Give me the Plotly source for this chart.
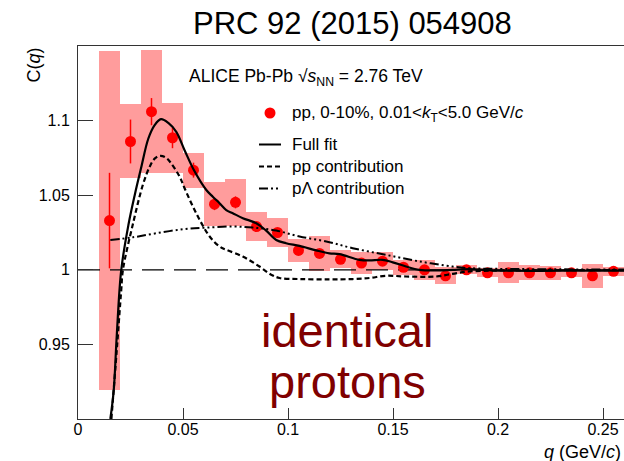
import plotly.graph_objects as go

# ---------------- data ----------------
q_pts = [0.015, 0.025, 0.035, 0.045, 0.055, 0.065, 0.075, 0.085, 0.095, 0.105,
         0.115, 0.125, 0.135, 0.145, 0.155, 0.165, 0.175, 0.185, 0.195, 0.205,
         0.215, 0.225, 0.235, 0.245, 0.255]
c_pts = [1.033, 1.086, 1.106, 1.0885, 1.0668, 1.044, 1.0452, 1.029, 1.025, 1.013,
         1.011, 1.007, 1.0045, 1.0058, 1.0017, 1.000, 0.996, 1.000, 0.998, 0.998,
         0.998, 0.998, 0.998, 0.996, 0.999]
stat_err = [0.032, 0.0147, 0.0091, 0.007, 0.005, 0.004, 0.004, 0.003, 0.003, 0.003,
            0.003, 0.002, 0.002, 0.002, 0.002, 0.002, 0.002, 0.002, 0.002, 0.002,
            0.002, 0.002, 0.002, 0.002, 0.002]
sys_err = [0.1136, 0.0248, 0.0414, 0.0236, 0.0117, 0.0147, 0.0156, 0.010, 0.010, 0.0078,
           0.0115, 0.006, 0.0072, 0.006, 0.005, 0.0065, 0.0058, 0.003, 0.003, 0.0071,
           0.005, 0.0047, 0.0027, 0.008, 0.003]
bin_width = 0.01

q_full = [0.0154, 0.017, 0.0185, 0.0206, 0.024, 0.027, 0.030, 0.0335, 0.0365, 0.0395,
          0.043, 0.0468, 0.0508, 0.0555, 0.0611, 0.0642, 0.0674, 0.0706, 0.0737, 0.0785,
          0.0849, 0.0896, 0.0944, 0.0991, 0.1055, 0.1134, 0.1197, 0.1245, 0.134, 0.1388,
          0.145, 0.1499, 0.1562, 0.1626, 0.1705, 0.1784, 0.1863, 0.20, 0.22, 0.24, 0.26]
c_full = [0.90, 0.919, 0.957, 1.000, 1.030, 1.050, 1.068, 1.088, 1.097, 1.101,
          1.0985, 1.0925, 1.080, 1.066, 1.0535, 1.049, 1.0446, 1.040, 1.0379, 1.0346,
          1.0312, 1.0262, 1.020, 1.0178, 1.016, 1.013, 1.011, 1.0105, 1.0067, 1.0063,
          1.0067, 1.005, 1.0022, 1.000, 0.9996, 1.000, 1.0004, 0.9995, 0.9993, 0.9995, 0.9995]

q_ppc = [0.0159, 0.0185, 0.0206, 0.0214, 0.0262, 0.0309, 0.0341, 0.0365, 0.0392, 0.042,
         0.0444, 0.0484, 0.0508, 0.0563, 0.0627, 0.0674, 0.0706, 0.0785, 0.0864, 0.092,
         0.096, 0.1055, 0.1197, 0.1308, 0.1388, 0.1467, 0.1562, 0.1705, 0.1784, 0.1863,
         0.20, 0.22, 0.26]
c_ppc = [0.90, 0.947, 0.9866, 1.000, 1.031, 1.057, 1.069, 1.0745, 1.0764, 1.075,
         1.0713, 1.0624, 1.0545, 1.0379, 1.0223, 1.0156, 1.0134, 1.0089, 1.0022, 0.9967,
         0.9945, 0.9938, 0.9936, 0.9938, 0.9945, 0.996, 0.9955, 0.9955, 0.9973, 0.9989,
         0.9995, 0.9997, 0.9998]

q_pl = [0.0154, 0.0262, 0.0373, 0.05, 0.0611, 0.0737, 0.0833, 0.0944, 0.1055, 0.1182,
        0.1308, 0.1467, 0.1626, 0.1784, 0.1863, 0.21, 0.26]
c_pl = [1.020, 1.0218, 1.0245, 1.0272, 1.0283, 1.029, 1.0283, 1.0263, 1.0223, 1.019,
        1.0145, 1.010, 1.0056, 1.0022, 1.0011, 1.0005, 1.0002]

x_ticks = [0, 0.05, 0.1, 0.15, 0.2, 0.25]
x_ticktext = ["0", "0.05", "0.1", "0.15", "0.2", "0.25"]
y_ticks = [0.95, 1.0, 1.05, 1.1]
y_ticktext = ["0.95", "1", "1.05", "1.1"]
x_range = [0, 0.26]
y_range = [0.9, 1.15]
baseline = [1.0, 1.0]

# ---------------- layout geometry ----------------
W, H = 624, 461
L, R, T, B = 78, 0, 46, 42
PW, PH = W - L - R, H - T - B
FONT = "Liberation Sans, Arial, Helvetica, sans-serif"


def px(xp):
    return (xp - L) / PW


def py(yp):
    return (H - B - yp) / PH


fig = go.Figure()

# systematic boxes
fig.add_trace(go.Bar(
    x=q_pts, y=[2 * s for s in sys_err], base=[c - s for c, s in zip(c_pts, sys_err)],
    width=bin_width, marker=dict(color="#ff9c9c", line=dict(width=0)),
    showlegend=False, hoverinfo="skip"))

# reference line at 1
fig.add_trace(go.Scatter(
    x=x_range, y=baseline, mode="lines",
    line=dict(color="black", width=1.2, dash="22px,10px"), showlegend=False))

# data points
fig.add_trace(go.Scatter(
    x=q_pts, y=c_pts, mode="markers",
    marker=dict(color="#ff0000", size=11, line=dict(width=0)),
    error_y=dict(type="data", array=stat_err, color="#ff0000", thickness=1.5, width=0),
    showlegend=False))

# curves
fig.add_trace(go.Scatter(x=q_full, y=c_full, mode="lines", line_shape="spline",
                         line=dict(color="black", width=2.2), showlegend=False))
fig.add_trace(go.Scatter(x=q_ppc, y=c_ppc, mode="lines", line_shape="spline",
                         line=dict(color="black", width=2.2, dash="5px,3px"), showlegend=False))
fig.add_trace(go.Scatter(x=q_pl, y=c_pl, mode="lines", line_shape="spline",
                         line=dict(color="black", width=2,
                                   dash="9px,3px,2px,3px,2px,3px,2px,3px"),
                         showlegend=False))

annotations = []
shapes = []

# title
annotations.append(dict(x=px(352), y=py(24), xref="paper", yref="paper",
                        text="PRC 92 (2015) 054908", showarrow=False,
                        xanchor="center", yanchor="middle",
                        font=dict(size=31, color="black", family=FONT)))
# ALICE label
annotations.append(dict(x=px(187), y=py(78), xref="paper", yref="paper",
                        text="ALICE Pb-Pb \u221a<i>s</i><sub>NN</sub> = 2.76 TeV",
                        showarrow=False, xanchor="left", yanchor="middle",
                        font=dict(size=17.5, color="black", family=FONT)))

# legend
leg_rows = [
    (114, "pp, 0-10%, 0.01&lt;<i>k</i><sub>T</sub>&lt;5.0 GeV/<i>c</i>"),
    (144.5, "Full fit"),
    (166.5, "pp contribution"),
    (188.5, "p\u039b contribution"),
]
for yy, txt in leg_rows:
    annotations.append(dict(x=px(290), y=py(yy), xref="paper", yref="paper",
                            text=txt, showarrow=False, xanchor="left", yanchor="middle",
                            font=dict(size=17, color="black", family=FONT)))
shapes.append(dict(type="circle", xref="paper", yref="paper",
                   x0=px(264.5), x1=px(275.5), y0=py(118.5), y1=py(107.5),
                   fillcolor="#ff0000", line=dict(width=0)))
for yy, dash in [(144.5, "solid"), (166.5, "5px,3px"), (188.5, "9px,3px,2px,3px,2px,3px,2px,3px")]:
    shapes.append(dict(type="line", xref="paper", yref="paper",
                       x0=px(259), x1=px(281), y0=py(yy), y1=py(yy),
                       line=dict(color="black", width=2, dash=dash)))

# big label
annotations.append(dict(x=px(347), y=py(330), xref="paper", yref="paper",
                        text="identical", showarrow=False, xanchor="center", yanchor="middle",
                        font=dict(size=47, color="#800000", family=FONT)))
annotations.append(dict(x=px(347), y=py(381), xref="paper", yref="paper",
                        text="protons", showarrow=False, xanchor="center", yanchor="middle",
                        font=dict(size=47, color="#800000", family=FONT)))

# axis titles
annotations.append(dict(x=px(33), y=py(46), xref="paper", yref="paper",
                        text="C(<i>q</i>)", showarrow=False, textangle=-90,
                        xanchor="center", yanchor="top",
                        font=dict(size=18, color="black", family=FONT)))
annotations.append(dict(x=px(623), y=py(452), xref="paper", yref="paper",
                        text="<i>q</i> (GeV/<i>c</i>)", showarrow=False,
                        xanchor="right", yanchor="middle",
                        font=dict(size=18, color="black", family=FONT)))

fig.update_layout(
    width=W, height=H,
    margin=dict(l=L, r=R, t=T, b=B, pad=0),
    paper_bgcolor="white", plot_bgcolor="white",
    barmode="overlay", bargap=0,
    showlegend=False,
    font=dict(family=FONT, size=16, color="black"),
    annotations=annotations, shapes=shapes,
    xaxis=dict(range=x_range, tickvals=x_ticks, ticktext=x_ticktext,
               ticks="inside", ticklen=11, tickwidth=1, tickcolor="#333",
               showline=True, linecolor="#333", linewidth=1, mirror=True,
               showgrid=False, zeroline=False, tickfont=dict(size=16),
               ticklabelstandoff=-4),
    yaxis=dict(range=y_range, tickvals=y_ticks, ticktext=y_ticktext,
               ticks="inside", ticklen=15, tickwidth=1, tickcolor="#333",
               showline=True, linecolor="#333", linewidth=1, mirror=False,
               showgrid=False, zeroline=False, tickfont=dict(size=16),
               ticklabelstandoff=4),
)

fig.write_html("out.html")
